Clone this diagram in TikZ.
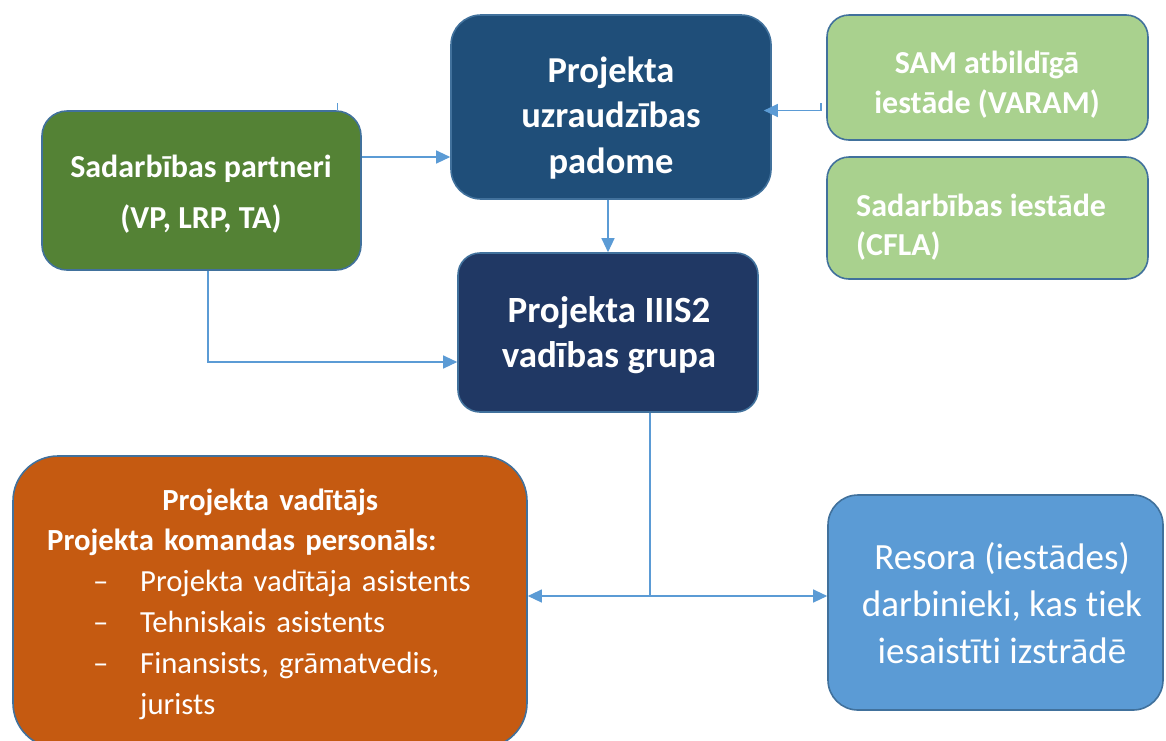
\documentclass[tikz,border=0pt]{standalone}
\usepackage{fontspec}
\setmainfont{Carlito}[Ligatures=NoCommon]
\usetikzlibrary{arrows.meta}
\definecolor{bord}{HTML}{41719C}
\definecolor{arrowc}{HTML}{5B9BD5}
\definecolor{padomefill}{HTML}{1F4E79}
\definecolor{grupafill}{HTML}{203864}
\definecolor{partnerfill}{HTML}{548235}
\definecolor{lightgreen}{HTML}{A9D18E}
\definecolor{orangefill}{HTML}{C55A11}
\definecolor{resorafill}{HTML}{5B9BD5}
\begin{document}
\begin{tikzpicture}[x=1pt,y=-1pt,
  box/.style={draw=bord, line width=1.6pt, inner sep=0pt, rectangle},
  conn/.style={draw=arrowc, line width=1.2pt, -{Triangle[length=14pt,width=13pt]}},
  plainline/.style={draw=arrowc, line width=1.2pt},
  lbl/.style={text=white, inner sep=0pt, align=center}]
\useasboundingbox (0,0) rectangle (1166,740);

% boxes
\node[box, fill=padomefill, rounded corners=30pt, minimum width=320pt, minimum height=184pt] (padome) at (611,107) {};
\node[box, fill=lightgreen, rounded corners=22pt, minimum width=321pt, minimum height=125pt] (varam) at (987.5,77.5) {};
\node[box, fill=lightgreen, rounded corners=22pt, minimum width=321pt, minimum height=122pt] (cfla) at (987.5,218) {};
\node[box, fill=partnerfill, rounded corners=25pt, minimum width=319pt, minimum height=159pt] (partneri) at (201.5,190.5) {};
\node[box, fill=grupafill, rounded corners=22pt, minimum width=300pt, minimum height=159pt] (grupa) at (608,332.5) {};
\node[box, fill=orangefill, rounded corners=45pt, minimum width=514pt, minimum height=292pt] (orange) at (270,602) {};
\node[box, fill=resorafill, rounded corners=30pt, minimum width=335pt, minimum height=215pt] (resora) at (995.5,602.5) {};

% texts
\node[lbl, font=\fontsize{36.5}{45.5}\selectfont\bfseries] (padomeT) at (611,118) {Projekta\\uzraudzības\\padome};
\node[lbl, font=\fontsize{37}{45}\selectfont\bfseries] (grupaT) at (609,335) {Projekta IIIS2\\vadības grupa};
\node[lbl, font=\fontsize{32}{51}\selectfont\bfseries] (partneriT) at (201,194) {Sadarbības partneri\\(VP, LRP, TA)};
\node[lbl, font=\fontsize{32}{40.5}\selectfont\bfseries] (varamT) at (987,84.5) {SAM atbildīgā\\iestāde (VARAM)};
\node[lbl, align=left, anchor=west, font=\fontsize{32}{39}\selectfont\bfseries] (cflaT) at (856,227.5) {Sadarbības iestāde\\(CFLA)};
\node[lbl, font=\fontsize{37}{46.7}\selectfont] (resoraT) at (1002,603) {Resora (iestādes)\\darbinieki, kas tiek\\iesaistīti izstrādē};
\node[lbl, align=left, anchor=north west, text width=470pt, font=\fontsize{30.7}{40.8}\selectfont] (orangeT) at (47,488.3) {%
\makebox[446pt][c]{\bfseries Projekta vadītājs}\\
\textbf{Projekta komandas personāls:}\\
\hspace*{46pt}\makebox[47pt][l]{–}Projekta vadītāja asistents\\
\hspace*{46pt}\makebox[47pt][l]{–}Tehniskais asistents\\
\hspace*{46pt}\makebox[47pt][l]{–}Finansists, grāmatvedis,\\
\hspace*{93pt}jurists};

% connectors
\draw[plainline, line width=0.8pt] (partneri.north -| 337,0) -- ++(0,-7);
\draw[conn] (partneri.east |- 0,157) -- (padome.west |- 0,157);
\coordinate (vstart) at (821,103);
\draw[conn] (vstart) -- (821,110.5) -- ([xshift=-8pt]padome.east |- 0,110.5);
\draw[conn] (grupa.north |- padome.south) -- (grupa.north);
\draw[conn] (partneri.south -| 208,0) |- (grupa.west |- 0,362);
\coordinate (split) at (650,596);
\draw[plainline] (grupa.south -| split) -- (split);
\draw[conn] (split) -- (orange.east |- split);
\draw[conn] (split) -- (resora.west |- split);
\end{tikzpicture}
\end{document}
